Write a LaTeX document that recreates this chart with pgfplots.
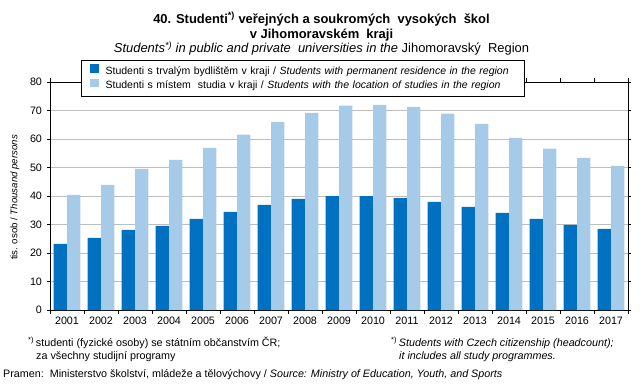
\documentclass[border=0pt]{standalone}
\usepackage{pgfplots}
\pgfplotsset{compat=1.18}
\usepackage{fontspec}
\setmainfont{Liberation Sans}
\definecolor{dblue}{RGB}{0,112,192}
\definecolor{lblue}{RGB}{166,203,232}
\definecolor{gridgray}{RGB}{190,190,190}
\newcommand{\fs}{\fontsize{10.8}{12.5}\selectfont}
\begin{document}
\begin{tikzpicture}[x=1bp,y=1bp]
\path[use as bounding box] (0,0) rectangle (643,390);
\begin{axis}[
  at={(50bp,80bp)}, anchor=south west,
  scale only axis, width=578bp, height=228bp,
  xmin=0.5, xmax=17.5, ymin=0, ymax=80,
  ytick={0,10,...,80},
  xtick={1,...,17},
  xticklabels={2001,2002,2003,2004,2005,2006,2007,2008,2009,2010,2011,2012,2013,2014,2015,2016,2017},
  minor xtick={0.5,1.5,...,17.5},
  tick align=outside,
  major tick length=3bp,
  minor tick length=4bp,
  major x tick style={draw=none},
  minor x tick style={black, line width=0.8bp},
  ytick style={black, line width=0.8bp},
  ymajorgrids,
  grid style={gridgray, line width=0.8bp},
  axis line style={black, line width=0.9bp},
  tick label style={font=\fs, text=black},
  yticklabel style={xshift=-1.5bp},
  /pgf/number format/assume math mode=true,
  legend style={at={(0.0536,1.096)}, anchor=north west, draw=black, line width=0.8bp,
     font=\fontsize{10.55}{12.5}\selectfont, fill=white, inner xsep=2bp, inner ysep=3.5bp, row sep=0.5bp,
     nodes={inner sep=1.5bp, text height=8bp, text depth=2.5bp},
     /tikz/every odd column/.append style={column sep=5.5bp},
     /tikz/every even column/.append style={text width=415bp}},
  legend cell align=left,
  legend image code/.code={\path (0bp,0bp); \fill[#1] (6.5bp,-1.3bp) rectangle (15.2bp,7.3bp);},
]
\addplot[ybar, fill=dblue, draw=none, bar width=13.3bp, bar shift=-6.65bp] coordinates {
(1,23.2) (2,25.3) (3,28.1) (4,29.5) (5,32.0) (6,34.4) (7,36.9) (8,39.0) (9,40.0)
(10,40.0) (11,39.3) (12,37.9) (13,36.2) (14,34.1) (15,32.0) (16,29.9) (17,28.5)};
\addplot[ybar, fill=lblue, draw=none, bar width=13.3bp, bar shift=6.65bp] coordinates {
(1,40.4) (2,43.9) (3,49.5) (4,52.7) (5,56.9) (6,61.5) (7,66.0) (8,69.2) (9,71.7)
(10,72.0) (11,71.3) (12,68.9) (13,65.3) (14,60.4) (15,56.6) (16,53.4) (17,50.6)};
\legend{Studenti s trvalým bydlištěm v kraji / \textit{Students with permanent residence in the region},
Studenti s místem\ \ studia v kraji / \textit{Students with the location of studies in the region}}
\end{axis}
% titles
\node[anchor=base, font=\fontsize{13}{15}\selectfont\bfseries] at (321.5,367)
  {40. Studenti\textsuperscript{*)} veřejných a soukromých\ \ vysokých\ \ škol};
\node[anchor=base, font=\fontsize{13}{15}\selectfont\bfseries] at (321.5,352)
  {v Jihomoravském\ \ kraji};
\node[anchor=base, font=\fontsize{13}{15}\selectfont] at (321.5,337.5)
  {\textit{Students\textsuperscript{*)} in public and private\ \ universities in the} Jihomoravský\ \ Region};
% y label
\node[rotate=90, font=\fontsize{9.7}{11}\selectfont] at (15,192.5) {tis. osob / \textit{Thousand persons}};
% footnotes
\node[anchor=base west, font=\fs, inner sep=0] at (28,43.5) {\textsuperscript{*)}\,studenti (fyzické osoby) se státním občanstvím ČR;};
\node[anchor=base west, font=\fs, inner sep=0] at (36,30.5) {za všechny studijní programy};
\node[anchor=base west, font=\fs, inner sep=0] at (391,43.5) {\textsuperscript{*)}\,\textit{Students with Czech citizenship (headcount);}};
\node[anchor=base west, font=\fs, inner sep=0] at (399,30.5) {\textit{it includes all study programmes.}};
\node[anchor=base west, font=\fs, inner sep=0] at (3,12.5) {Pramen:\ \ Ministerstvo školství, mládeže a tělovýchovy / \textit{Source: Ministry of Education, Youth, and Sports}};
\end{tikzpicture}
\end{document}
